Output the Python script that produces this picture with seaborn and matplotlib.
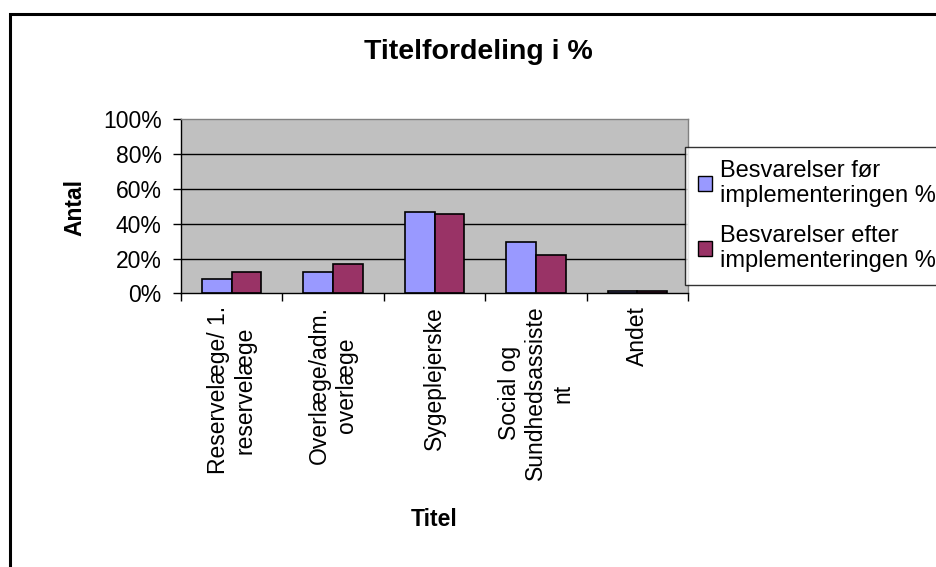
import pandas as pd
import numpy as np
import matplotlib
matplotlib.use('Agg')
import matplotlib.pyplot as plt
import matplotlib.ticker as mticker
import matplotlib.patches as mpatches
import seaborn as sns

# Data (procent)
titler = ['Reservelæge/ 1.\nreservelæge', 'Overlæge/adm.\noverlæge', 'Sygeplejerske',
          'Social og\nSundhedsassiste\nnt', 'Andet']
foer = [8.0, 12.2, 46.5, 29.3, 1.5]
efter = [12.2, 16.7, 45.4, 21.8, 1.5]
serier = ['Besvarelser før\nimplementeringen %', 'Besvarelser efter\nimplementeringen %']
farver = ['#9999FF', '#993366']

df = pd.DataFrame({
    'Titel': titler * 2,
    'Andel': foer + efter,
    'Serie': [serier[0]] * len(titler) + [serier[1]] * len(titler),
})

sns.set_style('white')
plt.rcParams['font.family'] = ['Liberation Sans', 'DejaVu Sans']
plt.rcParams['text.color'] = 'black'
plt.rcParams['xtick.color'] = 'black'
plt.rcParams['ytick.color'] = 'black'
plt.rcParams['axes.labelcolor'] = 'black'

fig = plt.figure(figsize=(9.36, 5.67), dpi=100)
ax = fig.add_axes([181 / 936, 1 - 293.3 / 567, 507 / 936, 174 / 567])
ax.set_facecolor('#C0C0C0')

sns.barplot(data=df, x='Titel', y='Andel', hue='Serie', order=titler, hue_order=serier,
            palette=farver, saturation=1, edgecolor='black', linewidth=1.2, width=0.585, gap=0,
            ax=ax, legend=True)

ax.set_ylim(0, 100)
ax.set_xlim(-0.5, len(titler) - 0.5)
ax.yaxis.set_major_locator(mticker.MultipleLocator(20))
ax.yaxis.set_major_formatter(mticker.PercentFormatter(xmax=100, decimals=0))
for y in [20, 40, 60, 80]:
    ax.axhline(y, color='black', linewidth=1, zorder=0.5)

# spines
ax.spines['left'].set_color('black')
ax.spines['bottom'].set_color('black')
ax.spines['top'].set_color('#808080')
ax.spines['right'].set_color('#808080')
for s in ax.spines.values():
    s.set_visible(True)
    s.set_linewidth(1)

# ticks
ax.tick_params(axis='y', which='major', direction='out', length=6, width=1, color='black',
               labelsize=16.5, pad=8, left=True, labelcolor='black')
ax.set_xticks(range(len(titler)))
ax.set_xticklabels(titler, rotation=90, ha='center', va='top', multialignment='center')
ax.tick_params(axis='x', which='major', length=0, labelsize=16.5, pad=9, labelcolor='black')
ax.set_xticks(np.arange(-0.5, len(titler), 1.0), minor=True)
ax.tick_params(axis='x', which='minor', direction='out', length=6, width=1, color='black', bottom=True)

ax.set_xlabel('')
ax.set_ylabel('')

fig.text(478 / 936, 1 - 52 / 567, 'Titelfordeling i %', ha='center', va='center',
         fontsize=20.5, fontweight='bold')
fig.text(434 / 936, 1 - 520 / 567, 'Titel', ha='center', va='center',
         fontsize=16.5, fontweight='bold')
fig.text(75 / 936, 1 - 207 / 567, 'Antal', ha='center', va='center', rotation=90,
         fontsize=16.5, fontweight='bold')

leg = ax.legend(loc='upper left', bbox_to_anchor=(685 / 936, 1 - 147 / 567),
                bbox_transform=fig.transFigure, frameon=True, fancybox=False,
                fontsize=17, handlelength=0.6, handleheight=0.6, handletextpad=0.35,
                borderpad=0.55, labelspacing=0.75, borderaxespad=0)
leg.get_frame().set_edgecolor('black')
leg.get_frame().set_linewidth(1)
for h in leg.legend_handles:
    h.set_edgecolor('black')
    h.set_linewidth(1)

# ydre ramme (kun venstre og top er synlige)
fig.patches.append(mpatches.Rectangle((10 / 936, -0.1), 1.2, 1.1 - 14 / 567,
                                      transform=fig.transFigure, fill=False,
                                      edgecolor='black', linewidth=2.2, figure=fig))

fig.savefig('out.png', dpi=100)
